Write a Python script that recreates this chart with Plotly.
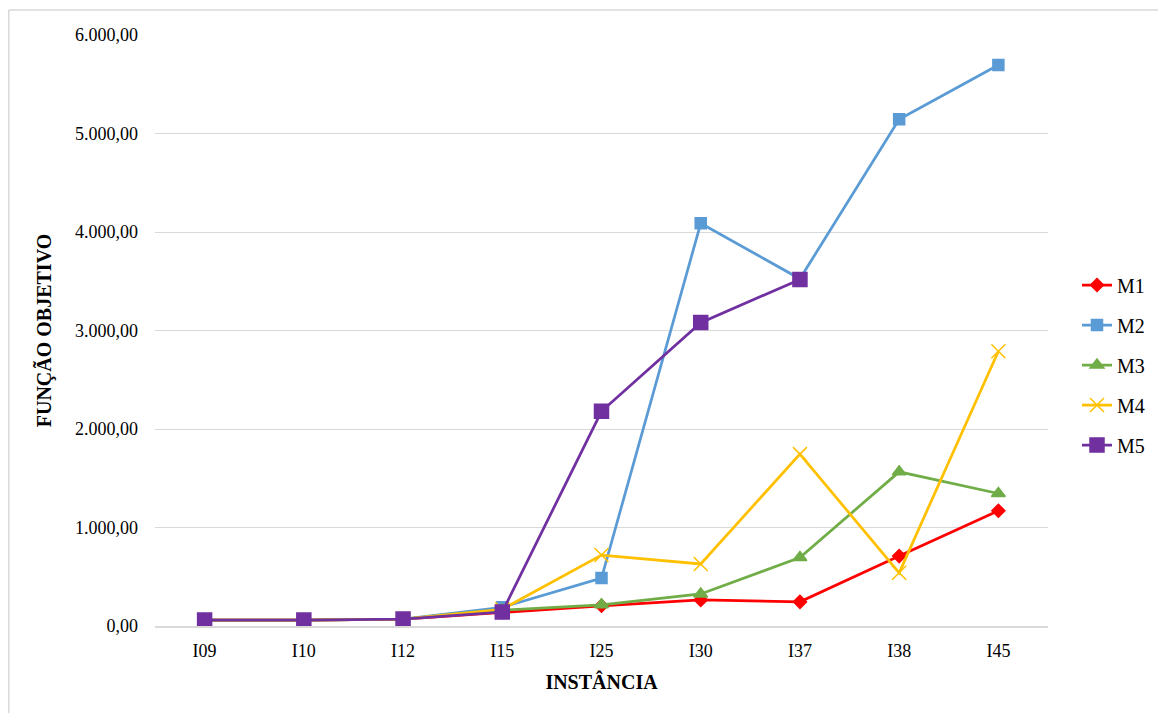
import plotly.graph_objects as go

categories = ["I09", "I10", "I12", "I15", "I25", "I30", "I37", "I38", "I45"]
m1 = [60, 60, 70, 140, 205, 265, 245, 710, 1170]
m2 = [60, 60, 70, 190, 487, 4088, 3525, 5145, 5695]
m3 = [60, 60, 70, 160, 215, 325, 695, 1565, 1345]
m4 = [60, 60, 70, 170, 720, 630, 1745, 540, 2790]
m5 = [60, 60, 70, 142, 2180, 3080, 3518]
series_names = ["M1", "M2", "M3", "M4", "M5"]
y_ticks = [0, 1000, 2000, 3000, 4000, 5000, 6000]

W, H = 1166, 713
# plot area in figure pixels
L, R, T, B = 147, 1040, 27, 618

colors = ["#FF0000", "#5B9BD5", "#70AD47", "#FFC000", "#7030A0"]
symbols = ["diamond", "square", "triangle-up", "x-thin-open", "square"]
sizes = [10, 11, 12, 14, 14]
data = [m1, m2, m3, m4, m5]

font = "Liberation Serif, Times New Roman, serif"

fig = go.Figure()
for i, (name, vals) in enumerate(zip(series_names, data)):
    fig.add_trace(go.Scatter(
        x=categories[:len(vals)], y=vals, name=name, mode="lines+markers",
        line=dict(color=colors[i], width=2.75),
        marker=dict(symbol=symbols[i], size=sizes[i], color=colors[i],
                    line=dict(color=colors[i], width=1.5)),
        legendgroup=name,
    ))

def fmt(v):
    s = f"{v:,.2f}"
    return s.replace(",", "X").replace(".", ",").replace("X", ".")

def px_x(p):
    return (p - L) / (R - L)

def px_y(p):
    return (B - p) / (B - T)

fig.update_layout(
    width=W, height=H,
    margin=dict(l=L, r=W - R, t=T, b=H - B),
    paper_bgcolor="white", plot_bgcolor="white",
    font=dict(family=font, size=18, color="#000000"),
    showlegend=True,
    legend=dict(x=px_x(1069), xanchor="left", y=px_y(357), yanchor="middle",
                font=dict(family=font, size=20, color="#000000"),
                tracegroupgap=11, bgcolor="rgba(0,0,0,0)"),
    xaxis=dict(type="category", categoryorder="array", categoryarray=categories,
               range=[-0.5, len(categories) - 0.5],
               showline=True, linecolor="#D9D9D9", linewidth=1.5,
               showgrid=False, ticks="", zeroline=False,
               ticklabelstandoff=8,
               tickfont=dict(family=font, size=18, color="#000000"),
               title=dict(text="<b>INSTÂNCIA</b>", font=dict(family=font, size=20, color="#000000"), standoff=15)),
    yaxis=dict(range=[0, 6000], tickvals=y_ticks, ticktext=[fmt(v) for v in y_ticks],
               showgrid=True, gridcolor="#D9D9D9", gridwidth=1.2,
               showline=False, zeroline=False, ticks="",
               ticklabelstandoff=16,
               tickfont=dict(family=font, size=18, color="#000000"),
               title=dict(text="<b>FUNÇÃO OBJETIVO</b>", font=dict(family=font, size=20, color="#000000"), standoff=18)),
)

# chart outer border (left and top edges)
fig.add_shape(type="line", xref="paper", yref="paper",
              x0=px_x(0.8), x1=px_x(0.8), y0=px_y(2), y1=px_y(H),
              line=dict(color="#D9D9D9", width=1.5))
fig.add_shape(type="line", xref="paper", yref="paper",
              x0=px_x(0.8), x1=px_x(W), y0=px_y(2), y1=px_y(2),
              line=dict(color="#D9D9D9", width=1.5))

fig.write_html("out.html")
